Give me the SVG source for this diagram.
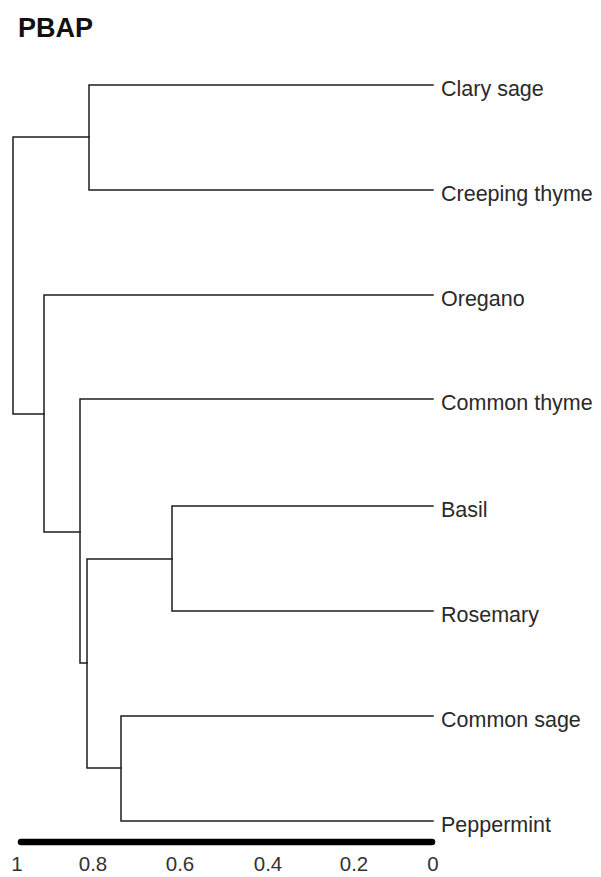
<svg xmlns="http://www.w3.org/2000/svg" width="601" height="877" viewBox="0 0 601 877">
<style>
.br{fill:none;stroke:#1e1e1e;stroke-width:1.5;stroke-linecap:square}
.lb{font-family:"Liberation Sans",Arial,sans-serif;font-size:21.5px;fill:#2a2a2a}
.tk{font-family:"Liberation Sans",Arial,sans-serif;font-size:20.5px;fill:#333;text-anchor:middle}
</style>
<rect width="601" height="877" fill="#fff"/>
<text x="18" y="37" font-family="Liberation Sans,Arial,sans-serif" font-weight="bold" font-size="27" fill="#111">PBAP</text>
<g id="connectors">
<path class="br" d="M433 85H89V190H433"/>
<path class="br" d="M89 137H13V414H44"/>
<path class="br" d="M433 295H44V532H80"/>
<path class="br" d="M433 399H80V663H87"/>
<path class="br" d="M172 559H87V768H121"/>
<path class="br" d="M433 506H172V611H433"/>
<path class="br" d="M433 716H121V821H433"/>
</g>
<g id="leaf-clary-sage"><text class="lb" x="441" y="96">Clary sage</text></g>
<g id="leaf-creeping-thyme"><text class="lb" x="441" y="201">Creeping thyme</text></g>
<g id="leaf-oregano"><text class="lb" x="441" y="306">Oregano</text></g>
<g id="leaf-common-thyme"><text class="lb" x="441" y="410">Common thyme</text></g>
<g id="leaf-basil"><text class="lb" x="441" y="517">Basil</text></g>
<g id="leaf-rosemary"><text class="lb" x="441" y="622">Rosemary</text></g>
<g id="leaf-common-sage"><text class="lb" x="441" y="727">Common sage</text></g>
<g id="leaf-peppermint"><text class="lb" x="441" y="832">Peppermint</text></g>
<g id="axis">
<line x1="21" y1="842" x2="432" y2="842" stroke="#000" stroke-width="6.5" stroke-linecap="round"/>
<text class="tk" x="17" y="871">1</text>
<text class="tk" x="93" y="871">0.8</text>
<text class="tk" x="180" y="871">0.6</text>
<text class="tk" x="268" y="871">0.4</text>
<text class="tk" x="354" y="871">0.2</text>
<text class="tk" x="433" y="871">0</text>
</g>
</svg>
